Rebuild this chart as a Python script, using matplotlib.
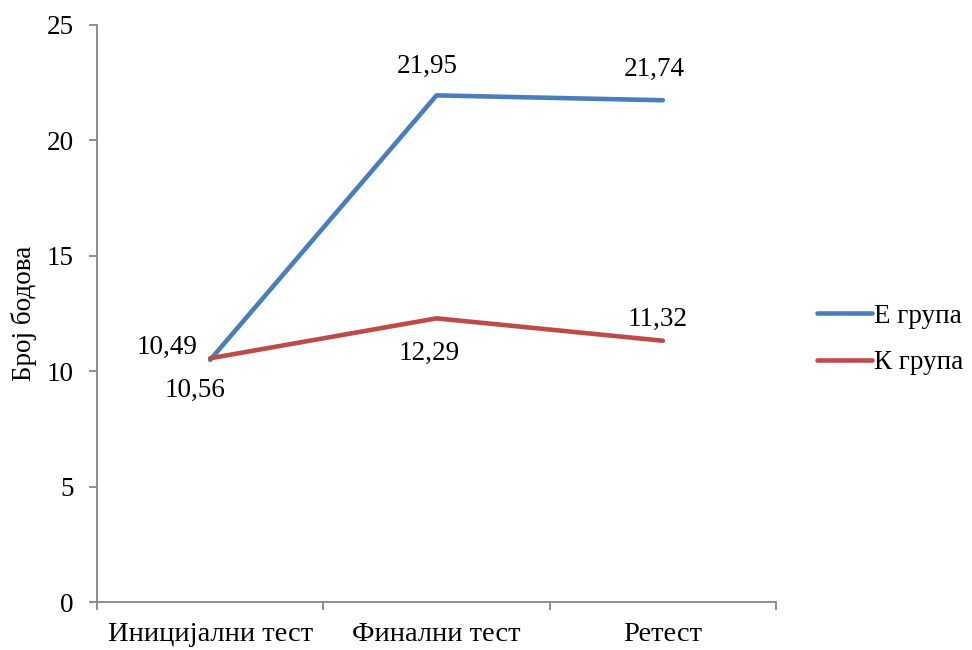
import matplotlib.pyplot as plt

plt.rcParams['font.family'] = ['Liberation Serif', 'DejaVu Serif']

categories = ['Иницијални тест', 'Финални тест', 'Ретест']
e_group = [10.49, 21.95, 21.74]
k_group = [10.56, 12.29, 11.32]
series_names = ['Е група', 'К група']

# label offsets in points (dx, dy) for each value
e_offsets = [(-31, 9), (-7, 21), (-6, 22)]
k_offsets = [(-11, -23), (-5, -25), (-4, 15)]

fs = 19.5
fig = plt.figure(figsize=(9.72, 6.5), dpi=100)
ax = fig.add_axes([97 / 972, 48 / 650, (776 - 97) / 972, (602 - 25) / 650])

x = [i + 0.5 for i in range(len(categories))]
blue = '#4A7EBB'
red = '#BE4B48'
ax.plot(x, e_group, color=blue, lw=3.3, solid_capstyle='round', label=series_names[0])
ax.plot(x, k_group, color=red, lw=3.3, solid_capstyle='round', label=series_names[1])

for xi, v, off in zip(x, e_group, e_offsets):
    ax.annotate(f'{v:.2f}'.replace('.', ','), (xi, v), xytext=off, textcoords='offset points',
                ha='center', va='center', fontsize=fs)
for xi, v, off in zip(x, k_group, k_offsets):
    ax.annotate(f'{v:.2f}'.replace('.', ','), (xi, v), xytext=off, textcoords='offset points',
                ha='center', va='center', fontsize=fs)

ax.set_xlim(0, 3)
ax.set_ylim(0, 25)
ax.set_yticks(range(0, 26, 5))
ax.set_xticks([0, 1, 2, 3])
ax.set_xticklabels([])
ax.set_xticks(x, minor=True)
ax.set_xticklabels(categories, minor=True)
ax.tick_params(axis='x', which='minor', length=0, labelsize=20.5, pad=14.5)
ax.tick_params(axis='x', which='major', length=6, color='#868686', width=1.3)
ax.tick_params(axis='y', length=6, color='#868686', width=1.3, labelsize=fs, pad=11)

for side in ['top', 'right']:
    ax.spines[side].set_visible(False)
for side in ['left', 'bottom']:
    ax.spines[side].set_color('#868686')
    ax.spines[side].set_linewidth(1.3)

ax.set_ylabel('Број бодова', fontsize=fs, labelpad=7)

ax.legend(loc='center left', bbox_to_anchor=(1.025, 0.455), frameon=False, fontsize=fs,
          handlelength=2.0, handletextpad=0.1, labelspacing=0.8)

fig.savefig('out.png', dpi=100)
